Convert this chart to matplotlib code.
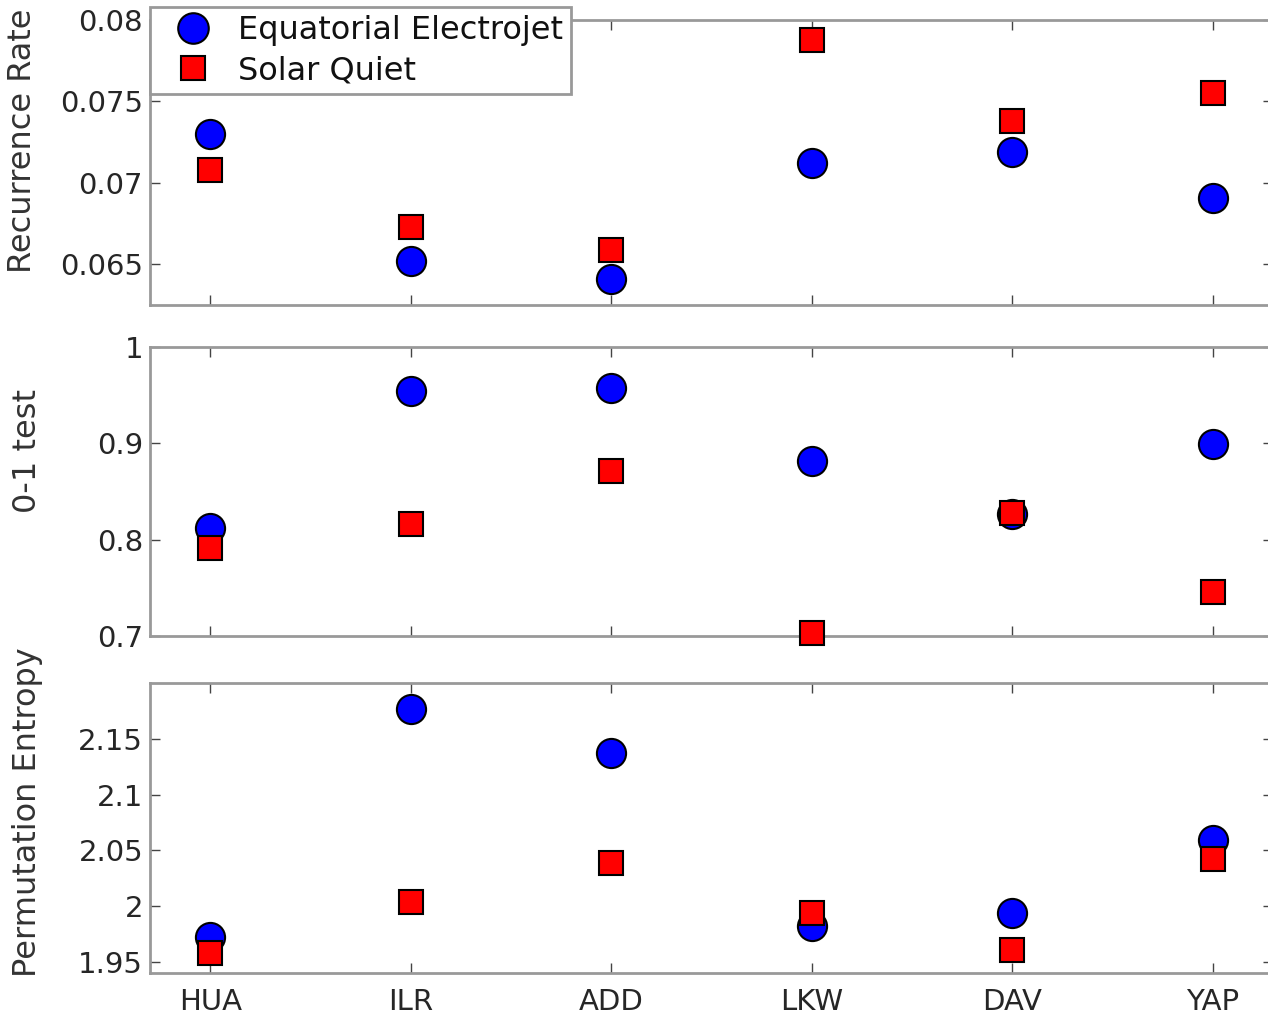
import matplotlib
matplotlib.use("Agg")
import matplotlib.pyplot as plt
from matplotlib.ticker import FormatStrFormatter

plt.rcParams['font.family'] = ['DejaVu Sans']

stations = ["HUA", "ILR", "ADD", "LKW", "DAV", "YAP"]

rr_eej = [0.0730, 0.0652, 0.0641, 0.0712, 0.0719, 0.0691]
rr_sq = [0.0708, 0.0673, 0.0659, 0.0788, 0.0738, 0.0755]

zo_eej = [0.8125, 0.954, 0.957, 0.882, 0.827, 0.899]
zo_sq = [0.791, 0.816, 0.871, 0.703, 0.828, 0.746]

pe_eej = [1.972, 2.177, 2.137, 1.982, 1.994, 2.059]
pe_sq = [1.958, 2.004, 2.039, 1.994, 1.961, 2.042]

rr_ticks = [0.065, 0.07, 0.075, 0.08]
zo_ticks = [0.7, 0.8, 0.9, 1.0]
pe_ticks = [1.95, 2.0, 2.05, 2.1, 2.15]

W, H = 1268, 1017
fig = plt.figure(figsize=(W / 100, H / 100), dpi=100)

left = 150 / W
width = (1273 - 150) / W
# (top px, bottom px, eej, sq, label, ticks, ylim, label x, label y)
panels = [
    (20, 305, rr_eej, rr_sq, "Recurrence Rate", rr_ticks, (0.0625, 0.08), -0.100, 0.575),
    (347, 636, zo_eej, zo_sq, "0-1 test", zo_ticks, (0.7, 1.0), -0.095, 0.64),
    (683, 973, pe_eej, pe_sq, "Permutation Entropy", pe_ticks, (1.94, 2.2), -0.095, 0.555),
]

x = list(range(len(stations)))
txt = '#262626'
axes = []
for i, (top, bot, eej, sq, lab, ticks, lim, lx, ly) in enumerate(panels):
    ax = fig.add_axes([left, 1 - bot / H, width, (bot - top) / H])
    ax.plot(x, eej, 'o', ms=21, mfc='#0000ff', mec='black', mew=1.5,
            label='Equatorial Electrojet', clip_on=False, zorder=3)
    ax.plot(x, sq, 's', ms=17, mfc='#ff0000', mec='black', mew=1.5,
            label='Solar Quiet', clip_on=False, zorder=4)
    ax.set_xlim(-0.3, 5.3)
    ax.set_ylim(*lim)
    ax.set_yticks(ticks)
    ax.yaxis.set_major_formatter(FormatStrFormatter('%g'))
    ax.set_xticks(x)
    if i == 2:
        ax.set_xticklabels(stations)
    else:
        ax.set_xticklabels([])
    ax.tick_params(direction='in', length=7, width=1, color='#444444',
                   top=True, right=True, labelcolor=txt)
    ax.tick_params(axis='y', labelsize=21, pad=5)
    ax.tick_params(axis='x', labelsize=21, pad=11)
    for s in ax.spines.values():
        s.set_color('#999999')
        s.set_linewidth(2)
    ax.set_ylabel(lab, fontsize=23, color='#333333')
    ax.yaxis.set_label_coords(lx, ly)
    axes.append(ax)

leg = axes[0].legend(loc='upper left', bbox_to_anchor=(0.0, 1.046), numpoints=1,
                     fontsize=23, fancybox=False, framealpha=1, borderaxespad=0,
                     handletextpad=0.3, borderpad=0.25, labelspacing=0.3,
                     handlelength=2.2)
leg.get_frame().set_edgecolor('#999999')
leg.get_frame().set_linewidth(2)
for t in leg.get_texts():
    t.set_color('#111111')
leg.legend_handles[0].set_markersize(22)
leg.legend_handles[1].set_markersize(17)

fig.savefig("out.png", dpi=100)
